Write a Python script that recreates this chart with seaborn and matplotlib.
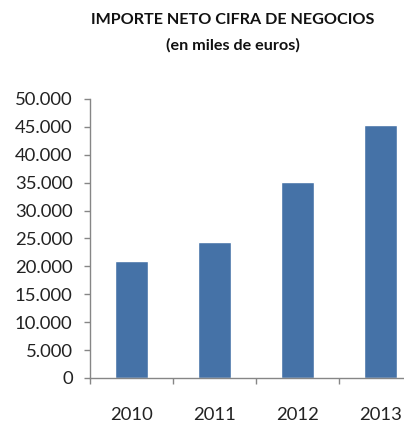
import matplotlib
matplotlib.use("Agg")
import matplotlib.pyplot as plt
import matplotlib.ticker as mticker
import seaborn as sns
import pandas as pd

years = ["2010", "2011", "2012", "2013"]
values = [21000, 24400, 35200, 45300]
title_line1 = "IMPORTE NETO CIFRA DE NEGOCIOS"
title_line2 = "(en miles de euros)"

sns.set_style("white")
plt.rcParams['font.family'] = ['Lato', 'DejaVu Sans']

df = pd.DataFrame({"year": years, "value": values})

fig = plt.figure(figsize=(4.04, 4.24), dpi=100)
W, H = 404, 424
ax = fig.add_axes([90 / W, (H - 378) / H, 332 / W, (378 - 99) / H])

sns.barplot(data=df, x="year", y="value", color="#4572A7", saturation=1,
            width=0.4, ax=ax)

ax.set_xlim(-0.5, 3.5)
ax.set_ylim(0, 50000)
ax.set_xlabel("")
ax.set_ylabel("")

axis_color = "#868686"
for side in ["top", "right"]:
    ax.spines[side].set_visible(False)
for side in ["left", "bottom"]:
    ax.spines[side].set_color(axis_color)
    ax.spines[side].set_linewidth(1.0)

ax.yaxis.set_major_locator(mticker.MultipleLocator(5000))
ax.yaxis.set_major_formatter(mticker.FuncFormatter(
    lambda v, p: f"{int(v):,}".replace(",", ".")))
ax.tick_params(axis="y", direction="out", length=4.5, width=1,
               color=axis_color, labelsize=13.3, pad=8, left=True,
               labelcolor="#222222")

ax.set_xticks([-0.5, 0.5, 1.5, 2.5, 3.5])
ax.set_xticklabels([])
ax.set_xticks(range(len(years)), minor=True)
ax.set_xticklabels(years, minor=True)
ax.tick_params(axis="x", which="major", direction="out", length=4.5,
               width=1, color=axis_color, bottom=True)
ax.tick_params(axis="x", which="minor", length=0, labelsize=13.3, pad=21,
               labelcolor="#222222")

fig.text(233 / W, 1 - 20 / H, title_line1, ha="center", va="center",
         fontsize=11.6, fontweight="bold", color="#111111")
fig.text(233 / W, 1 - 45 / H, title_line2, ha="center", va="center",
         fontsize=11.6, fontweight="bold", color="#111111")

fig.savefig("out.png", dpi=100)
